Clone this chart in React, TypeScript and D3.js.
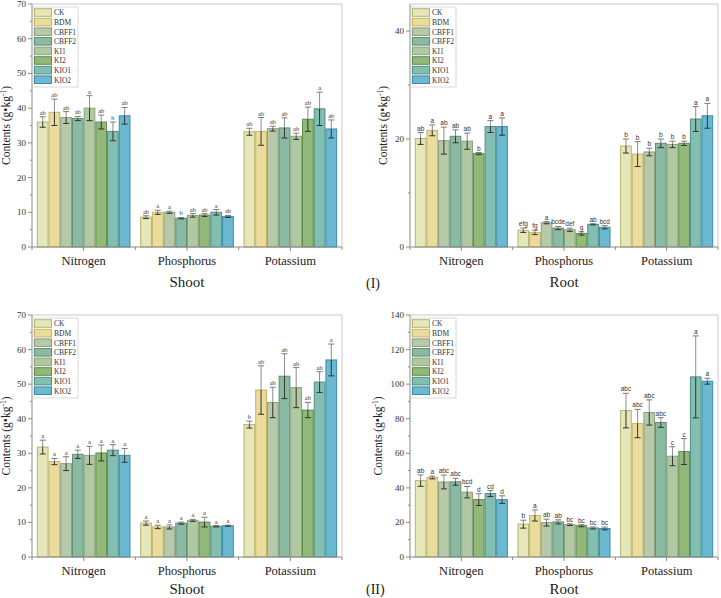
import React from 'react';
import * as d3 from 'd3';

const W = 721;
const H = 598;

const categories = ['Nitrogen', 'Phosphorus', 'Potassium'];
const treatments = ['CK', 'BDM', 'CBFF1', 'CBFF2', 'KI1', 'KI2', 'KIO1', 'KIO2'];
const fills = ['#e6e6bb', '#e9dc9c', '#b6c9a9', '#8bbaa2', '#b1c9a3', '#92b97a', '#82beb2', '#6bb9d1'];
const strokes = ['#b4b46c', '#c6b462', '#8c9e82', '#5e8e74', '#8aa27c', '#5f8c4a', '#4f8e82', '#3d8aa8'];

// (I) shoot
const shootIMean = [
  [36.0, 38.8, 37.3, 37.0, 40.0, 36.0, 33.3, 37.8],
  [8.6, 10.0, 10.0, 8.3, 9.1, 9.2, 10.0, 8.8],
  [33.2, 33.3, 34.1, 34.3, 31.9, 36.8, 39.8, 34.0],
];
const shootIErr = [
  [1.5, 3.8, 1.7, 0.6, 3.6, 2.0, 2.7, 2.4],
  [0.4, 0.6, 0.3, 0.2, 0.5, 0.4, 0.8, 0.3],
  [1.0, 4.0, 0.7, 2.9, 0.9, 3.5, 4.8, 2.6],
];
const shootILetters = [
  ['ab', 'ab', 'ab', 'ab', 'a', 'ab', 'b', 'ab'],
  ['ab', 'a', 'a', 'b', 'ab', 'ab', 'a', 'ab'],
  ['ab', 'ab', 'ab', 'ab', 'ab', 'ab', 'a', 'ab'],
];

// (I) root
const rootIMean = [
  [20.1, 21.6, 19.7, 20.5, 19.6, 17.3, 22.3, 22.3],
  [3.1, 2.7, 4.5, 3.5, 3.2, 2.5, 4.2, 3.65],
  [18.7, 17.2, 17.6, 19.2, 19.0, 19.2, 23.7, 24.3],
];
const rootIErr = [
  [1.1, 1.0, 2.5, 1.2, 1.5, 0.2, 1.1, 1.6],
  [0.4, 0.4, 0.2, 0.3, 0.3, 0.3, 0.1, 0.3],
  [1.3, 2.3, 0.7, 0.8, 0.6, 0.4, 2.3, 2.3],
];
const rootILetters = [
  ['ab', 'a', 'ab', 'ab', 'ab', 'b', 'a', 'a'],
  ['efg', 'fg', 'a', 'bcde', 'def', 'g', 'ab', 'bcd'],
  ['b', 'b', 'b', 'b', 'b', 'b', 'a', 'a'],
];

// (II) shoot
const shootIIMean = [
  [31.8, 27.6, 27.0, 29.7, 29.4, 30.1, 30.9, 29.4],
  [9.8, 8.7, 8.7, 9.8, 10.6, 10.1, 8.9, 9.05],
  [38.3, 48.3, 44.7, 52.3, 49.0, 42.5, 50.6, 57.0],
];
const shootIIErr = [
  [2.0, 0.9, 2.0, 1.2, 2.6, 2.3, 1.6, 2.0],
  [0.6, 0.5, 0.6, 0.3, 0.3, 1.4, 0.2, 0.15],
  [1.0, 7.0, 4.4, 6.5, 5.8, 2.2, 3.0, 4.6],
];
const shootIILetters = [
  ['a', 'a', 'a', 'a', 'a', 'a', 'a', 'a'],
  ['a', 'a', 'a', 'a', 'a', 'a', 'a', 'a'],
  ['b', 'ab', 'ab', 'ab', 'ab', 'ab', 'ab', 'a'],
];

// (II) root
const rootIIMean = [
  [44.2, 46.0, 43.4, 43.5, 37.5, 33.2, 36.7, 33.2],
  [19.0, 24.0, 19.9, 20.3, 18.7, 18.1, 16.8, 16.5],
  [84.7, 77.2, 83.6, 77.8, 58.3, 61.0, 104.2, 101.7],
];
const rootIIErr = [
  [3.3, 0.8, 4.0, 2.0, 3.3, 3.4, 1.7, 2.2],
  [2.3, 3.2, 2.0, 1.2, 0.5, 0.6, 0.6, 0.8],
  [10.0, 8.2, 7.3, 2.8, 5.5, 7.5, 23.7, 1.7],
];
const rootIILetters = [
  ['ab', 'a', 'abc', 'abc', 'bcd', 'd', 'cd', 'd'],
  ['b', 'a', 'ab', 'ab', 'bc', 'bc', 'bc', 'bc'],
  ['abc', 'abc', 'abc', 'abc', 'c', 'c', 'a', 'a'],
];

const SERIF = "'Liberation Serif', 'Times New Roman', Times, serif";
const SANS = "'Liberation Sans', Arial, sans-serif";

interface PanelProps {
  left: number;
  top: number;
  right: number;
  bottom: number;
  yMax: number;
  major: number;
  minor: number;
  mean: number[][];
  err: number[][];
  letters: string[][];
  title: string;
  labelFont: string;
  ylabOffset: number;
}

const Panel = (p: PanelProps) => {
  const x = d3.scaleBand<string>().domain(categories).range([p.left, p.right])
    .paddingInner(0.094).paddingOuter(0.047);
  const xs = d3.scaleBand<string>().domain(treatments).range([0, x.bandwidth()]).padding(0);
  const y = d3.scaleLinear().domain([0, p.yMax]).range([p.bottom, p.top]);
  const majors = d3.range(0, p.yMax + 0.001, p.major);
  const minors = d3.range(0, p.yMax + 0.001, p.minor).filter((v) => !majors.includes(v));
  const step = x.step();
  const bounds = d3.range(0, categories.length + 1).map((i) => p.left + i * step);
  const bw = xs.bandwidth();
  const cy = (p.top + p.bottom) / 2;
  const serif = { fontFamily: SERIF };
  return (
    <g>
      {/* frame */}
      <line x1={p.left} x2={p.right} y1={p.top} y2={p.top} stroke="#c8c8c8" />
      <line x1={p.right} x2={p.right} y1={p.top} y2={p.bottom} stroke="#c8c8c8" />
      {/* bars */}
      {categories.map((c, ci) =>
        treatments.map((t, ti) => {
          const bx = x(c)! + xs(t)!;
          const v = p.mean[ci][ti];
          const e = p.err[ci][ti];
          const mx = bx + bw / 2;
          return (
            <g key={c + t}>
              <rect x={bx + 0.5} y={y(v)} width={bw - 1} height={y(0) - y(v)}
                fill={fills[ti]} stroke={strokes[ti]} strokeWidth={1} />
              <line x1={mx} x2={mx} y1={y(v)} y2={y(v + e)} stroke="#8c8c8c" strokeWidth={1} />
              <line x1={mx - 3} x2={mx + 3} y1={y(v + e)} y2={y(v + e)} stroke="#7a7a7a" strokeWidth={1} />
              <line x1={mx} x2={mx} y1={y(v)} y2={y(v - e)} stroke="#333" strokeWidth={1} />
              <line x1={mx - 3} x2={mx + 3} y1={y(v - e)} y2={y(v - e)} stroke="#333" strokeWidth={1} />
              <text x={mx} y={y(v + e) - 2} textAnchor="middle" fontSize={6.5}
                style={{ fontFamily: p.labelFont }} fill="#333">{p.letters[ci][ti]}</text>
            </g>
          );
        })
      )}
      {/* axes */}
      <line x1={p.left} x2={p.left} y1={p.top} y2={p.bottom} stroke="#8a8a8a" />
      <line x1={p.left} x2={p.right} y1={p.bottom} y2={p.bottom} stroke="#8a8a8a" />
      {majors.map((v) => (
        <g key={'m' + v}>
          <line x1={p.left - 4} x2={p.left} y1={y(v)} y2={y(v)} stroke="#8a8a8a" />
          <text x={p.left - 6} y={y(v) + 3} textAnchor="end" fontSize={9} style={serif} fill="#333">{v}</text>
        </g>
      ))}
      {minors.map((v) => (
        <line key={'n' + v} x1={p.left - 2} x2={p.left} y1={y(v)} y2={y(v)} stroke="#8a8a8a" />
      ))}
      {categories.map((c) => (
        <g key={'c' + c}>
          <line x1={x(c)! + x.bandwidth() / 2} x2={x(c)! + x.bandwidth() / 2} y1={p.bottom} y2={p.bottom + 4} stroke="#8a8a8a" />
          <text x={x(c)! + x.bandwidth() / 2} y={p.bottom + 18} textAnchor="middle" fontSize={12.5}
            style={serif} fill="#222">{c}</text>
        </g>
      ))}
      {bounds.map((b, i) => (
        <line key={'b' + i} x1={b} x2={b} y1={p.bottom} y2={p.bottom + 3} stroke="#8a8a8a" />
      ))}
      <text x={(p.left + p.right) / 2} y={Math.min(p.bottom + 40, 594)} textAnchor="middle" fontSize={15}
        style={serif} fill="#222">{p.title}</text>
      <text transform={`translate(${p.left - p.ylabOffset},${cy}) rotate(-90)`} textAnchor="middle" fontSize={11.5}
        style={serif} fill="#222">
        Contents (g•kg<tspan dy={-4} fontSize={7.5}>-1</tspan><tspan dy={4}>)</tspan>
      </text>
      {/* legend */}
      <rect x={p.left + 1} y={p.top + 3} width={45} height={80} fill="white" stroke="#d0d0d0" strokeWidth={0.8} />
      {treatments.map((t, i) => {
        const ry = p.top + 8.5 + i * 9.6;
        return (
          <g key={'l' + t}>
            <rect x={p.left + 2.5} y={ry - 3.8} width={17} height={7.6} fill={fills[i]} stroke={strokes[i]} strokeWidth={1} />
            <text x={p.left + 22} y={ry + 2.8} fontSize={7.5} style={serif} fill="#333">{t}</text>
          </g>
        );
      })}
    </g>
  );
};

export default function App() {
  return (
    <svg width={W} height={H} style={{ position: 'absolute', left: 0, top: 0, background: 'white', fontFamily: SERIF }}>
      <Panel left={32} top={4} right={342} bottom={247} yMax={70} major={10} minor={5}
        mean={shootIMean} err={shootIErr} letters={shootILetters} title="Shoot" labelFont={SERIF} ylabOffset={22} />
      <Panel left={410} top={4} right={718} bottom={247} yMax={45} major={20} minor={10}
        mean={rootIMean} err={rootIErr} letters={rootILetters} title="Root" labelFont={SANS} ylabOffset={23} />
      <Panel left={32} top={315} right={342} bottom={557} yMax={70} major={10} minor={5}
        mean={shootIIMean} err={shootIIErr} letters={shootIILetters} title="Shoot" labelFont={SERIF} ylabOffset={22} />
      <Panel left={410} top={315} right={718} bottom={557} yMax={140} major={20} minor={10}
        mean={rootIIMean} err={rootIIErr} letters={rootIILetters} title="Root" labelFont={SANS} ylabOffset={28} />
      <text x={366} y={288} fontSize={14} style={{ fontFamily: SERIF }} fill="#222">(I)</text>
      <text x={366} y={594} fontSize={14} style={{ fontFamily: SERIF }} fill="#222">(II)</text>
    </svg>
  );
}
